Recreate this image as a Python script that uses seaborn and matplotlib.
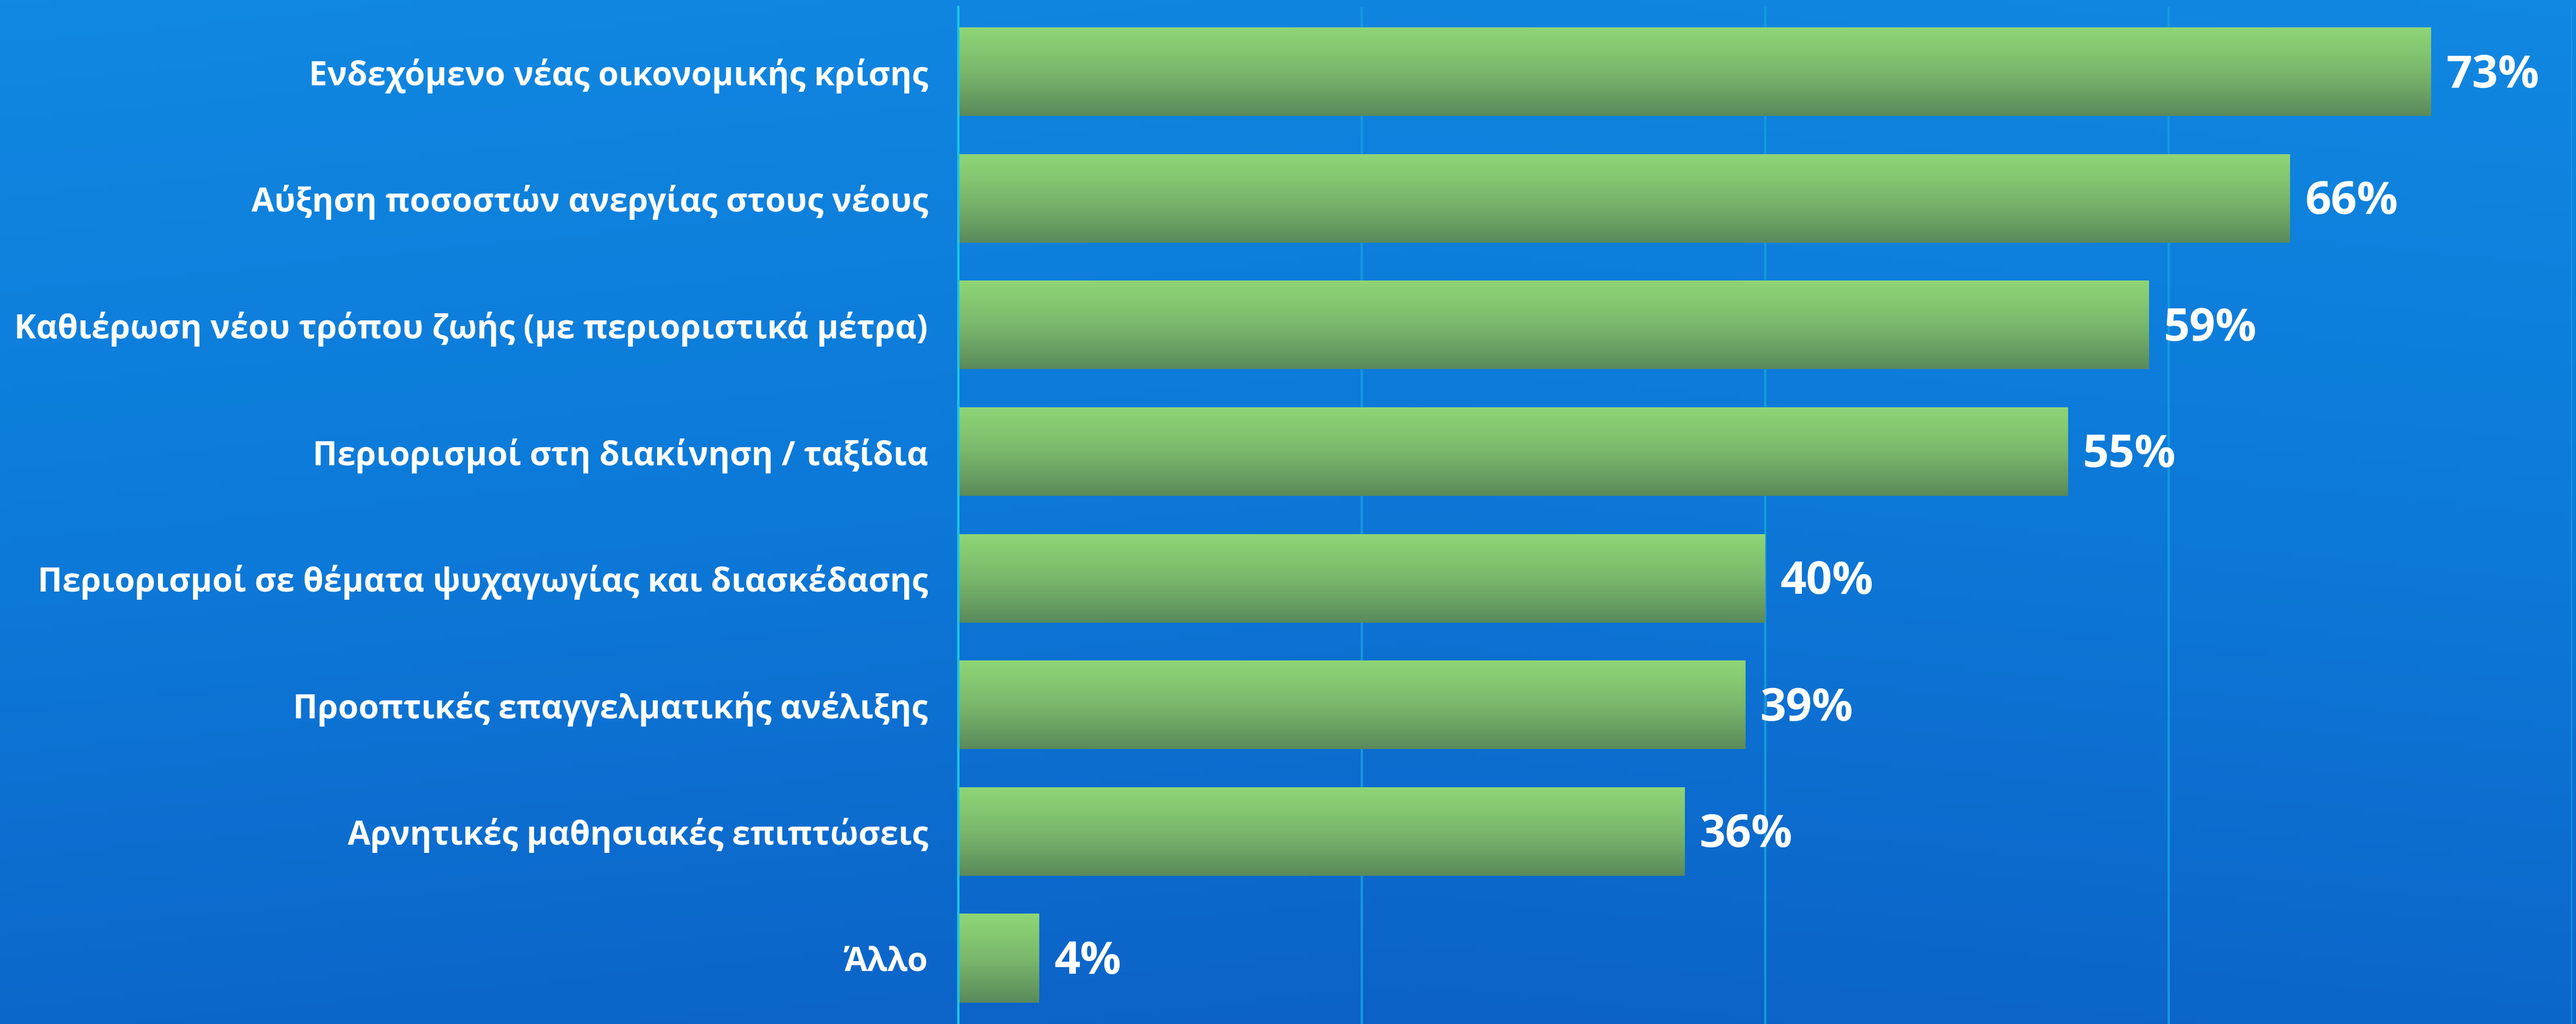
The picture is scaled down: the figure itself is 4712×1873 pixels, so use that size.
"""
Horizontal bar chart of concerns, green gradient bars on a blue backdrop.
"""
from matplotlib import pyplot as plt
from matplotlib.colors import LinearSegmentedColormap
import numpy as np
import pandas as pd
import seaborn as sns

# Data
categories = [
    'Ενδεχόμενο νέας οικονομικής κρίσης',
    'Αύξηση ποσοστών ανεργίας στους νέους',
    'Καθιέρωση νέου τρόπου ζωής (με περιοριστικά μέτρα)',
    'Περιορισμοί στη διακίνηση / ταξίδια',
    'Περιορισμοί σε θέματα ψυχαγωγίας και διασκέδασης',
    'Προοπτικές επαγγελματικής ανέλιξης',
    'Αρνητικές μαθησιακές επιπτώσεις',
    'Άλλο',
]
values = [73, 66, 59, 55, 40, 39, 36, 4]
value_labels = ['73%', '66%', '59%', '55%', '40%', '39%', '36%', '4%']

df = pd.DataFrame({'category': categories, 'value': values})

W, H, DPI = 4712, 1873, 100
sns.set_theme(style='white')
plt.rcParams['font.family'] = ['Open Sans', 'DejaVu Sans']

fig = plt.figure(figsize=(W / DPI, H / DPI), dpi=DPI)

# Blue background
bg = fig.add_axes([0, 0, 1, 1])
bg_cmap = LinearSegmentedColormap.from_list('bg', ['#1188e2', '#0c79d8', '#0d62c7'])
yy, xx = np.mgrid[0:1:200j, 0:1:400j]
grad = 0.8 * yy + 0.2 * (1 - np.abs(xx - 0.55))
bg.imshow(grad, cmap=bg_cmap, aspect='auto', extent=[0, 1, 0, 1], origin='upper')
bg.axis('off')

# Chart axes
x0 = 1753 / W
x1 = 4705 / W
ax = fig.add_axes([x0, 0, x1 - x0, (H - 13) / H])
ax.patch.set_alpha(0)

sns.barplot(data=df, y='category', x='value', orient='h', ax=ax,
            color='#76b36a', width=0.70, saturation=1, zorder=3)

ax.set_xlim(0, 80)
ax.set_ylim(7.52, -0.51)
ax.set_xticks([0, 20, 40, 60, 80])
ax.xaxis.grid(True, color='#1599dc', linewidth=3, zorder=0)
ax.yaxis.grid(False)
ax.tick_params(axis='x', bottom=False, labelbottom=False)
ax.tick_params(axis='y', left=False, pad=34, labelsize=43.5, labelcolor='white')
for lbl in ax.get_yticklabels():
    lbl.set_fontweight('bold')
ax.set_xlabel('')
ax.set_ylabel('')
for side in ['top', 'right', 'bottom']:
    ax.spines[side].set_visible(False)
ax.spines['left'].set_color('#19c8e6')
ax.spines['left'].set_linewidth(3)
ax.spines['left'].set_zorder(5)

# Gradient fill on each bar
bar_cmap = LinearSegmentedColormap.from_list('bar', ['#8fd676', '#7ab86c', '#5a8a5b'])
gradient = np.linspace(0, 1, 256).reshape(-1, 1)
for patch in ax.patches:
    bx, by = patch.get_x(), patch.get_y()
    bw, bh = patch.get_width(), patch.get_height()
    img = ax.imshow(gradient, cmap=bar_cmap, aspect='auto', zorder=4,
                    extent=[bx, bx + bw, by + bh, by], origin='upper')
    img.set_clip_path(patch)
    patch.set_edgecolor('none')

# Value labels
for i, (v, lab) in enumerate(zip(values, value_labels)):
    ax.text(v + 0.75, i + 0.03, lab, va='center', ha='left', color='white',
            fontsize=60, fontweight='bold', zorder=6)

ax.set_xlim(0, 80)
ax.set_ylim(7.52, -0.51)

fig.savefig('out.png', dpi=DPI)
